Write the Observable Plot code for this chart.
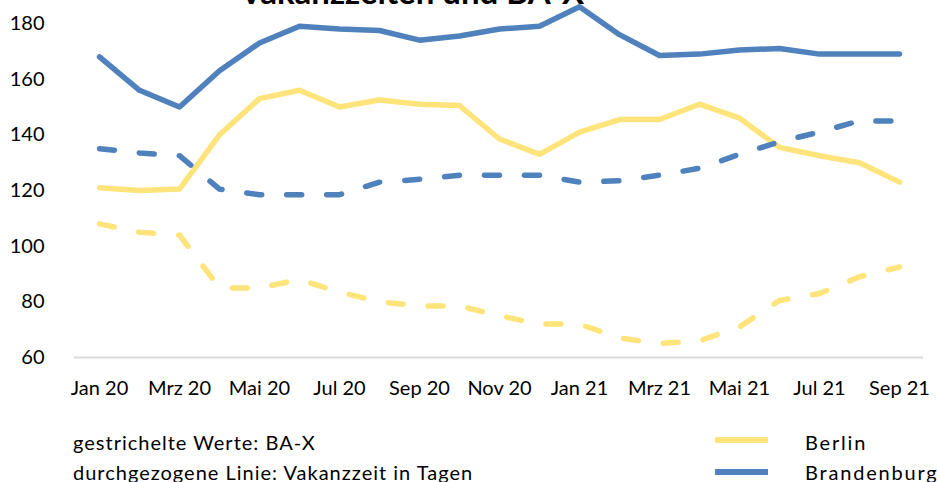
<!DOCTYPE html>
<html>
<head>
<meta charset="utf-8">
<script src="https://cdn.jsdelivr.net/npm/d3@7"></script>
<script src="https://cdn.jsdelivr.net/npm/@observablehq/plot@0.6"></script>
<style>
  html, body { margin: 0; padding: 0; background: #fff; }
  #wrap { position: relative; width: 937px; height: 482px; overflow: hidden; font-family: Lato, "Open Sans", sans-serif; }
  #chart { position: absolute; left: 0; top: 0; }
  #overlay { position: absolute; left: 0; top: 0; }
</style>
</head>
<body>
<div id="wrap">
  <div id="chart"></div>
  <svg id="overlay" width="937" height="482"></svg>
</div>
<script>
const months = ["Jan 20","Feb 20","Mrz 20","Apr 20","Mai 20","Jun 20","Jul 20","Aug 20","Sep 20","Okt 20","Nov 20","Dez 20",
                "Jan 21","Feb 21","Mrz 21","Apr 21","Mai 21","Jun 21","Jul 21","Aug 21","Sep 21"];
const tickMonths = months.filter((m, i) => i % 2 === 0);
const yTicks = [60, 80, 100, 120, 140, 160, 180];

const berlinVakanz = [121, 120, 120.5, 140, 153, 156, 150, 152.5, 151, 150.5, 138.5, 133, 141, 145.5, 145.5, 151, 146, 135.5, 132.5, 130, 123];
const brandenburgVakanz = [168, 156, 150, 163, 173, 179, 178, 177.5, 174, 175.5, 178, 179, 186, 176, 168.5, 169, 170.5, 171, 169, 169, 169];
const berlinBAX = [108, 105, 104, 85, 85, 88, 83.5, 80, 78.5, 78.5, 75, 72, 72, 67, 65, 66, 71, 80.5, 83, 89, 92.5];
const brandenburgBAX = [135, 133.5, 132.5, 120.5, 118.5, 118.5, 118.5, 123, 124, 125.5, 125.5, 125.5, 123, 123.5, 125.5, 128, 133, 137.5, 141, 145, 145];

const title = "Vakanzzeiten und BA-X";
const noteLines = ["gestrichelte Werte: BA-X", "durchgezogene Linie: Vakanzzeit in Tagen"];
const legendNames = ["Berlin", "Brandenburg"];
const colors = {Berlin: "#FFE47C", Brandenburg: "#4F81BD"};

const series = [
  {region: "Berlin", kind: "Vakanz", values: berlinVakanz},
  {region: "Brandenburg", kind: "Vakanz", values: brandenburgVakanz},
  {region: "Berlin", kind: "BAX", values: berlinBAX},
  {region: "Brandenburg", kind: "BAX", values: brandenburgBAX}
];
const rows = series.flatMap(s => s.values.map((v, i) => ({month: months[i], value: v, region: s.region, kind: s.kind, key: s.region + s.kind})));

const chart = Plot.plot({
  width: 937,
  height: 407,
  marginLeft: 74,
  marginRight: 14,
  marginTop: 23,
  marginBottom: 50,
  style: {fontFamily: "Lato, 'Open Sans', sans-serif", fontSize: "20px", color: "#000", background: "#fff"},
  x: {type: "point", domain: months, padding: 0.5, label: null},
  y: {domain: [60, 180], label: null},
  marks: [
    Plot.ruleY([60], {stroke: "#d9d9d9", strokeWidth: 2}),
    Plot.axisX({ticks: tickMonths, tickSize: 0, tickPadding: 23, fill: "#000", label: null}),
    Plot.axisY({ticks: yTicks, tickSize: 0, tickPadding: 30, fill: "#000", label: null}),
    Plot.line(rows.filter(d => d.kind === "Vakanz"), {x: "month", y: "value", z: "key", stroke: d => colors[d.region], strokeWidth: 5.5, strokeLinecap: "round", strokeLinejoin: "round"}),
    Plot.line(rows.filter(d => d.kind === "BAX"), {x: "month", y: "value", z: "key", stroke: d => colors[d.region], strokeWidth: 5.5, strokeLinecap: "round", strokeLinejoin: "round", strokeDasharray: "15,25"})
  ]
});
document.getElementById("chart").appendChild(chart);

const ov = d3.select("#overlay");
ov.append("text").attr("x", 412).attr("y", 3.5).attr("text-anchor", "middle")
  .attr("font-family", "Lato, 'Open Sans', sans-serif").attr("font-weight", "bold").attr("font-size", 33).attr("fill", "#000")
  .text(title);

noteLines.forEach((t, i) => {
  ov.append("text").attr("x", 73).attr("y", 450 + i * 30)
    .attr("font-family", "Lato, 'Open Sans', sans-serif").attr("font-size", 20).attr("letter-spacing", 1).attr("fill", "#000")
    .text(t);
});
legendNames.forEach((n, i) => {
  ov.append("rect").attr("x", 715).attr("y", 437 + i * 32).attr("width", 53).attr("height", 6).attr("fill", colors[n]);
  ov.append("text").attr("x", 805).attr("y", 450 + i * 30)
    .attr("font-family", "Lato, 'Open Sans', sans-serif").attr("font-size", 20).attr("letter-spacing", 1.8).attr("fill", "#000")
    .text(n);
});
</script>
</body>
</html>
